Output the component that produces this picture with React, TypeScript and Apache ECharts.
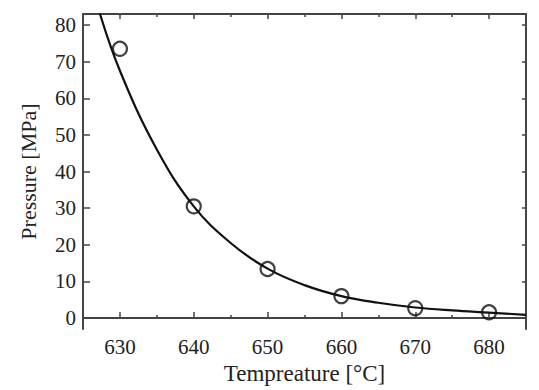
import React, { useEffect, useRef } from "react";
import * as echarts from "echarts";

const xTickLabels = [630, 640, 650, 660, 670, 680];
const xMinorTicks = [635, 645, 655, 665, 675];
const yTickLabels = [0, 10, 20, 30, 40, 50, 60, 70, 80];

// measured points (temperature °C, pressure MPa)
const measuredT = [630, 640, 650, 660, 670, 680];
const measuredP = [73.5, 30.5, 13.4, 6.0, 2.7, 1.6];

// fitted curve
const curveT = [627, 630, 635, 640, 645, 650, 655, 660, 665, 670, 675, 680, 685];
const curveP = [85, 67.5, 46, 30.5, 20.5, 13.5, 9, 6, 4.2, 2.9, 2.1, 1.5, 0.9];

const FONT = "'Liberation Serif', 'Times New Roman', serif";
const TEXT = "#222";
const AXIS = "#444";

export default function App() {
  const ref = useRef<HTMLDivElement>(null);
  useEffect(() => {
    document.body.style.margin = "0";
    const chart = echarts.init(ref.current!, null, { renderer: "svg" });
    const xBase = { type: "value", min: 625, max: 685 } as any;
    const yBase = { type: "value", min: -3, max: 83 } as any;
    chart.setOption({
      animation: false,
      backgroundColor: "#fff",
      grid: { left: 83, right: 13, top: 14, bottom: 60 },
      xAxis: [
        {
          ...xBase,
          position: "bottom",
          name: "Tempreature [°C]",
          nameLocation: "middle",
          nameGap: 31,
          nameTextStyle: { fontFamily: FONT, fontSize: 23, color: TEXT },
          axisLine: { show: true, lineStyle: { color: AXIS, width: 2 } },
          axisTick: { show: true, inside: true, length: 6, customValues: xTickLabels, lineStyle: { color: AXIS, width: 1.5 } },
          axisLabel: { customValues: xTickLabels, fontFamily: FONT, fontSize: 21, color: TEXT, margin: 7 },
          splitLine: { show: false },
        },
        {
          ...xBase,
          position: "bottom",
          axisLine: { show: false },
          axisTick: { show: true, inside: true, length: 3, customValues: xMinorTicks, lineStyle: { color: AXIS, width: 1.5 } },
          axisLabel: { show: false },
          splitLine: { show: false },
        },
        {
          ...xBase,
          position: "top",
          axisLine: { show: true, lineStyle: { color: AXIS, width: 2 } },
          axisTick: { show: true, inside: true, length: 5, customValues: xTickLabels, lineStyle: { color: AXIS, width: 1.5 } },
          axisLabel: { show: false },
          splitLine: { show: false },
        },
        {
          ...xBase,
          position: "top",
          axisLine: { show: false },
          axisTick: { show: true, inside: true, length: 3, customValues: xMinorTicks, lineStyle: { color: AXIS, width: 1.5 } },
          axisLabel: { show: false },
          splitLine: { show: false },
        },
      ],
      yAxis: [
        {
          ...yBase,
          position: "left",
          name: "Pressure [MPa]",
          nameLocation: "middle",
          nameGap: 44,
          nameRotate: 90,
          nameTextStyle: { fontFamily: FONT, fontSize: 22, color: TEXT },
          axisLine: { show: true, lineStyle: { color: AXIS, width: 2 } },
          axisTick: { show: true, inside: true, length: 7, customValues: yTickLabels, lineStyle: { color: AXIS, width: 1.5 } },
          axisLabel: { customValues: yTickLabels, fontFamily: FONT, fontSize: 21, color: TEXT, margin: 7 },
          splitLine: { show: false },
        },
        {
          ...yBase,
          position: "right",
          axisLine: { show: true, lineStyle: { color: AXIS, width: 2 } },
          axisTick: { show: true, inside: true, length: 4, customValues: yTickLabels, lineStyle: { color: AXIS, width: 1.5 } },
          axisLabel: { show: false },
          splitLine: { show: false },
        },
      ],
      series: [
        {
          type: "line",
          xAxisIndex: 0,
          yAxisIndex: 0,
          data: curveT.map((t, i) => [t, curveP[i]]),
          smooth: 0.4,
          showSymbol: false,
          clip: true,
          lineStyle: { color: "#111", width: 2.2 },
          z: 2,
        },
        {
          type: "scatter",
          xAxisIndex: 0,
          yAxisIndex: 0,
          data: measuredT.map((t, i) => [t, measuredP[i]]),
          symbol: "circle",
          symbolSize: 14,
          itemStyle: { color: "rgba(255,255,255,0)", borderColor: "#111", borderWidth: 2.2 },
          z: 3,
        },
      ],
    });
    return () => chart.dispose();
  }, []);
  return <div ref={ref} style={{ width: 539, height: 390 }} />;
}
